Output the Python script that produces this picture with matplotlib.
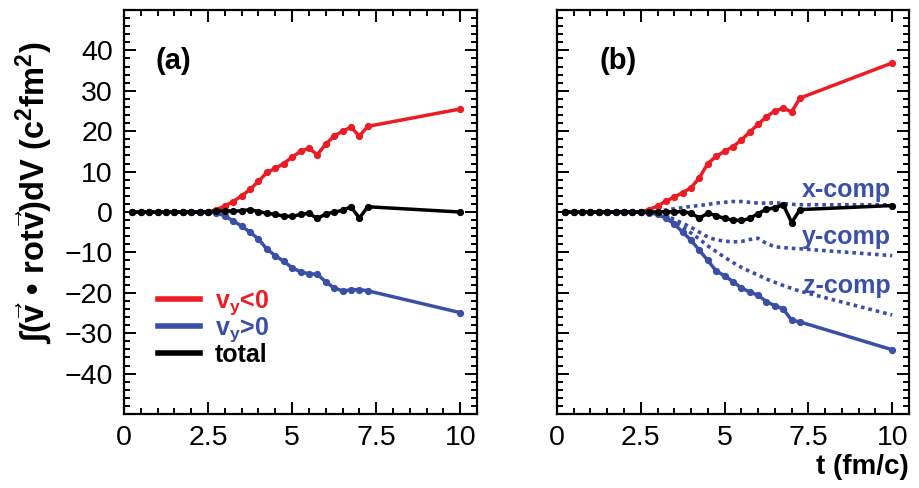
import numpy as np
import matplotlib
matplotlib.use("Agg")
import matplotlib.pyplot as plt
from matplotlib.ticker import MultipleLocator

plt.rcParams['font.family'] = ['Liberation Sans', 'DejaVu Sans']
plt.rcParams['mathtext.fontset'] = 'custom'
plt.rcParams['mathtext.rm'] = 'Liberation Sans:bold'
plt.rcParams['mathtext.bf'] = 'Liberation Sans:bold'
plt.rcParams['mathtext.it'] = 'Liberation Sans:bold'

RED = '#ec1c24'
BLUE = '#3a4fa6'

# time grid (fm/c)
t = [0.25, 0.5, 0.75, 1.0, 1.25, 1.5, 1.75, 2.0, 2.25, 2.5,
     2.75, 3.0, 3.25, 3.5, 3.75, 4.0, 4.25, 4.5, 4.75, 5.0,
     5.25, 5.5, 5.75, 6.0, 6.25, 6.5, 6.75, 7.0, 7.25, 10.0]

zeros10 = [0.0] * 10

# panel (a)
a_neg = zeros10 + [0.6, 1.5, 2.6, 4.0, 5.6, 7.6, 9.8, 10.8, 12.0, 13.6,
                   15.0, 15.8, 14.2, 16.8, 18.8, 20.0, 21.0, 18.8, 21.2, 25.5]
a_pos = zeros10 + [-0.2, -1.0, -2.2, -3.5, -5.0, -6.7, -9.2, -10.8, -12.2, -13.8,
                   -14.8, -15.3, -15.4, -17.3, -18.8, -19.5, -19.3, -19.2, -19.5, -24.9]
a_tot = zeros10 + [0.2, 0.3, 0.2, 0.3, 0.6, 0.1, -0.3, -0.6, -1.0, -1.1,
                   -0.6, -0.3, -1.6, -0.5, 0.0, 0.4, 1.3, -1.5, 1.3, 0.0]

# panel (b)
b_neg = zeros10 + [0.6, 1.5, 2.7, 3.7, 4.8, 6.0, 8.5, 12.0, 13.8, 15.0,
                   16.2, 17.8, 19.8, 21.7, 23.6, 25.0, 25.7, 24.8, 28.2, 36.9]
b_pos = zeros10 + [-0.2, -0.6, -1.5, -3.0, -5.0, -7.0, -9.5, -12.0, -14.6, -15.8,
                   -17.2, -18.8, -19.8, -20.6, -22.2, -23.2, -24.0, -26.8, -27.2, -34.1]
b_tot = zeros10 + [0.0, 0.0, 0.1, 0.0, 0.1, -0.3, -1.5, -0.3, -0.9, -1.6,
                   -2.0, -2.1, -1.6, -0.4, 0.7, 1.0, 1.8, -2.6, 0.6, 1.6]
x_comp = zeros10 + [0.0, 0.2, 0.5, 0.8, 1.1, 1.4, 1.6, 1.9, 2.2, 2.4,
                    2.6, 2.6, 2.4, 2.2, 2.2, 2.3, 2.1, 1.9, 1.8, 1.8]
y_comp = zeros10 + [-0.1, -0.4, -1.0, -1.8, -2.8, -3.8, -5.0, -6.2, -6.9, -7.2,
                    -7.4, -7.3, -6.8, -6.5, -7.8, -8.6, -8.8, -9.0, -9.1, -10.8]
z_comp = zeros10 + [-0.1, -0.5, -1.2, -2.4, -3.7, -5.2, -6.7, -8.4, -9.8, -11.2,
                    -12.5, -13.7, -14.7, -15.6, -16.6, -17.4, -18.2, -18.9, -19.6, -25.5]

xticks = [0, 2.5, 5, 7.5, 10]
xticklabels = ['0', '2.5', '5', '7.5', '10']
yticks = [-40, -30, -20, -10, 0, 10, 20, 30, 40]

fig = plt.figure(figsize=(9.2, 4.88), dpi=100)
ax1 = fig.add_axes([0.1348, 0.1516, 0.3837, 0.8279])
ax2 = fig.add_axes([0.6054, 0.1516, 0.3826, 0.8279])

line_kw = dict(lw=2.5, marker='o', ms=4.2)
for ax in (ax1, ax2):
    ax.set_xlim(0, 10.5)
    ax.set_ylim(-50, 50)
    ax.set_xticks(xticks)
    ax.set_xticklabels(xticklabels)
    ax.set_yticks(yticks)
    ax.xaxis.set_minor_locator(MultipleLocator(0.5))
    ax.yaxis.set_minor_locator(MultipleLocator(2))
    ax.tick_params(which='both', direction='in', top=True, right=True,
                   width=1.4, labelsize=20.5)
    ax.tick_params(which='major', length=8.5, pad=8)
    ax.tick_params(which='minor', length=4.5)
    for s in ax.spines.values():
        s.set_linewidth(1.6)

ax1.plot(t, a_neg, color=RED, label=r'$\mathbf{v_y}$<0', **line_kw)
ax1.plot(t, a_pos, color=BLUE, label=r'$\mathbf{v_y}$>0', **line_kw)
ax1.plot(t, a_tot, color='black', label='total', **line_kw)
ax1.text(0.09, 0.875, '(a)', transform=ax1.transAxes, fontsize=21,
         fontweight='bold', ha='left', va='center')
leg = ax1.legend(loc='upper left', bbox_to_anchor=(0.06, 0.343), frameon=False,
                 borderpad=0, handlelength=1.7, handletextpad=0.6, labelspacing=-0.05,
                 prop={'weight': 'bold', 'size': 18}, labelcolor='linecolor')
for h in leg.get_lines():
    h.set_marker('')
    h.set_linewidth(4)

ax1.set_ylabel(r'$\mathrm{∫}(\vec{\mathbf{v}}\ \mathrm{•}\ \mathbf{rot}\vec{\mathbf{v}})\mathbf{dV}\ (\mathbf{c}^\mathbf{2}\mathbf{fm}^\mathbf{2})$',
               fontsize=23.5)
ax1.yaxis.set_label_coords(-0.195, 0.547)

dot_kw = dict(color=BLUE, lw=2.6, ls=(0, (1, 1.1)), dash_capstyle='butt')
ax2.plot(t, x_comp, **dot_kw)
ax2.plot(t, y_comp, **dot_kw)
ax2.plot(t, z_comp, **dot_kw)
ax2.plot(t, b_neg, color=RED, **line_kw)
ax2.plot(t, b_pos, color=BLUE, **line_kw)
ax2.plot(t, b_tot, color='black', **line_kw)
ax2.set_yticklabels([])
ax2.text(0.12, 0.875, '(b)', transform=ax2.transAxes, fontsize=21,
         fontweight='bold', ha='left', va='center')
for lab, yv in (('x-comp', 5.5), ('y-comp', -6.3), ('z-comp', -18.3)):
    ax2.text(9.95, yv, lab, color=BLUE, fontsize=18, fontweight='bold',
             ha='right', va='center')
ax2.set_xlabel('t (fm/c)', fontsize=20, fontweight='bold', loc='right', labelpad=2)

fig.savefig('out.png', dpi=100)
